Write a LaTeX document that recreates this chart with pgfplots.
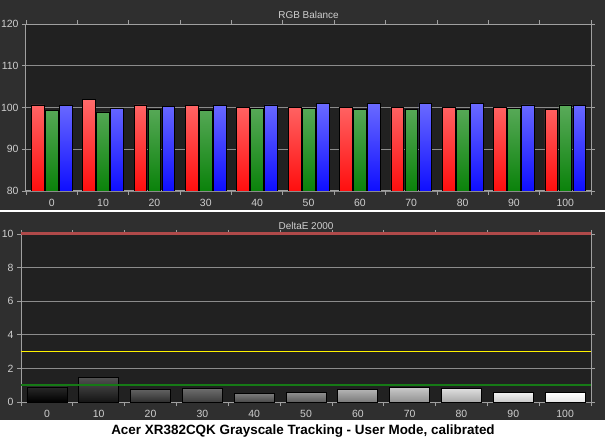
\documentclass[border=0pt]{standalone}
\usepackage{pgfplots}
\pgfplotsset{compat=1.18}
\usepackage{fontspec}
\setmainfont{Liberation Sans}

\definecolor{panel}{HTML}{2F2F2F}
\definecolor{plotbg}{HTML}{212121}
\definecolor{axisgray}{HTML}{A0A0A0}
\definecolor{gridgray}{HTML}{8C8C8C}
\definecolor{labelgray}{HTML}{CFCFCF}
\definecolor{redtop}{HTML}{FF6A6A}
\definecolor{redbot}{HTML}{FF0E0E}
\definecolor{greentop}{HTML}{5AAA5A}
\definecolor{greenbot}{HTML}{0A820A}
\definecolor{bluetop}{HTML}{6A6AFF}
\definecolor{bluebot}{HTML}{0E0EFF}
\definecolor{limitred}{HTML}{B04A4A}
\definecolor{limitgreen}{HTML}{167A16}

\pgfplotsset{
  panel axis/.style={
    scale only axis,
    xmin=-0.5, xmax=10.5,
    xtick={0,...,10},
    xticklabels={0,10,20,30,40,50,60,70,80,90,100},
    minor xtick={-0.5,0.5,1.5,2.5,3.5,4.5,5.5,6.5,7.5,8.5,9.5,10.5},
    major x tick style={draw=none},
    tick align=outside,
    major tick length=4bp,
    minor tick length=4bp,
    tick style={axisgray, line width=0.8bp},
    axis line style={axisgray, line width=1bp},
    axis background/.style={fill=plotbg},
    ymajorgrids,
    major grid style={gridgray, line width=0.8bp},
    ticklabel style={labelgray, font=\fontsize{10.5}{12}\selectfont},
    /pgf/number format/assume math mode=true,
    xticklabel style={yshift=-1bp},
  },
  gbar/.style={ybar, bar width=40bp, bar shift=0bp, draw=black, line width=0.7bp},
}

\begin{document}
\begin{tikzpicture}
\useasboundingbox (0bp,0bp) rectangle (605bp,441bp);
\fill[white] (0bp,0bp) rectangle (605bp,441bp);
\fill[panel] (0bp,231bp) rectangle (605bp,441bp);
\fill[panel] (0bp,21bp) rectangle (605bp,229bp);

% RGB balance
\begin{axis}[panel axis,
  at={(26bp,250bp)}, anchor=south west,
  width=565bp, height=167bp,
  ymin=80, ymax=120, ytick={80,90,100,110,120}]
\addplot[ybar, bar width=12.7bp, bar shift=-14bp, draw=black, line width=0.7bp,
  top color=redtop, bottom color=redbot] coordinates {
  (0,100.6) (1,101.9) (2,100.6) (3,100.4) (4,100.0) (5,100.0)
  (6,100.0) (7,100.0) (8,100.0) (9,100.0) (10,99.5)};
\addplot[ybar, bar width=12.7bp, bar shift=0bp, draw=black, line width=0.7bp,
  top color=greentop, bottom color=greenbot] coordinates {
  (0,99.3) (1,98.95) (2,99.5) (3,99.3) (4,99.85) (5,99.85)
  (6,99.5) (7,99.5) (8,99.5) (9,99.75) (10,100.6)};
\addplot[ybar, bar width=12.7bp, bar shift=14bp, draw=black, line width=0.7bp,
  top color=bluetop, bottom color=bluebot] coordinates {
  (0,100.4) (1,99.75) (2,100.25) (3,100.4) (4,100.6) (5,101.0)
  (6,101.0) (7,101.0) (8,101.0) (9,100.6) (10,100.4)};
\end{axis}
\node[labelgray, font=\fontsize{10}{12}\selectfont] at (308.5bp,426bp) {RGB Balance};

% DeltaE 2000
\begin{axis}[panel axis,
  at={(21bp,39bp)}, anchor=south west,
  width=570bp, height=168bp,
  ymin=0, ymax=10, ytick={0,2,4,6,8,10}, clip=false]
\addplot[gbar, top color={black!84}, bottom color=black] coordinates {(0,0.90)};
\addplot[gbar, top color={black!68}, bottom color={black!92}] coordinates {(1,1.47)};
\addplot[gbar, top color={black!62}, bottom color={black!82}] coordinates {(2,0.74)};
\addplot[gbar, top color={black!57}, bottom color={black!76}] coordinates {(3,0.82)};
\addplot[gbar, top color={black!51}, bottom color={black!71}] coordinates {(4,0.52)};
\addplot[gbar, top color={black!44}, bottom color={black!64}] coordinates {(5,0.56)};
\addplot[gbar, top color={black!30}, bottom color={black!52}] coordinates {(6,0.74)};
\addplot[gbar, top color={black!21}, bottom color={black!43}] coordinates {(7,0.88)};
\addplot[gbar, top color={black!13}, bottom color={black!34}] coordinates {(8,0.80)};
\addplot[gbar, top color={black!5}, bottom color={black!21}] coordinates {(9,0.58)};
\addplot[gbar, top color=white, bottom color={black!10}] coordinates {(10,0.56)};
\addplot[color=limitgreen, line width=1.8bp, sharp plot, mark=none] coordinates {(-0.5,1) (10.5,1)};
\addplot[color=yellow, line width=1.5bp, sharp plot, mark=none] coordinates {(-0.5,3.02) (10.5,3.02)};
\addplot[color=limitred, line width=3bp, sharp plot, mark=none] coordinates {(-0.5,10) (10.5,10)};
\end{axis}
\node[labelgray, font=\fontsize{10}{12}\selectfont] at (306bp,215bp) {DeltaE 2000};

\node[black, font=\bfseries\fontsize{13.5}{15}\selectfont] at (303bp,9.5bp)
  {Acer XR382CQK Grayscale Tracking - User Mode, calibrated};
\end{tikzpicture}
\end{document}
